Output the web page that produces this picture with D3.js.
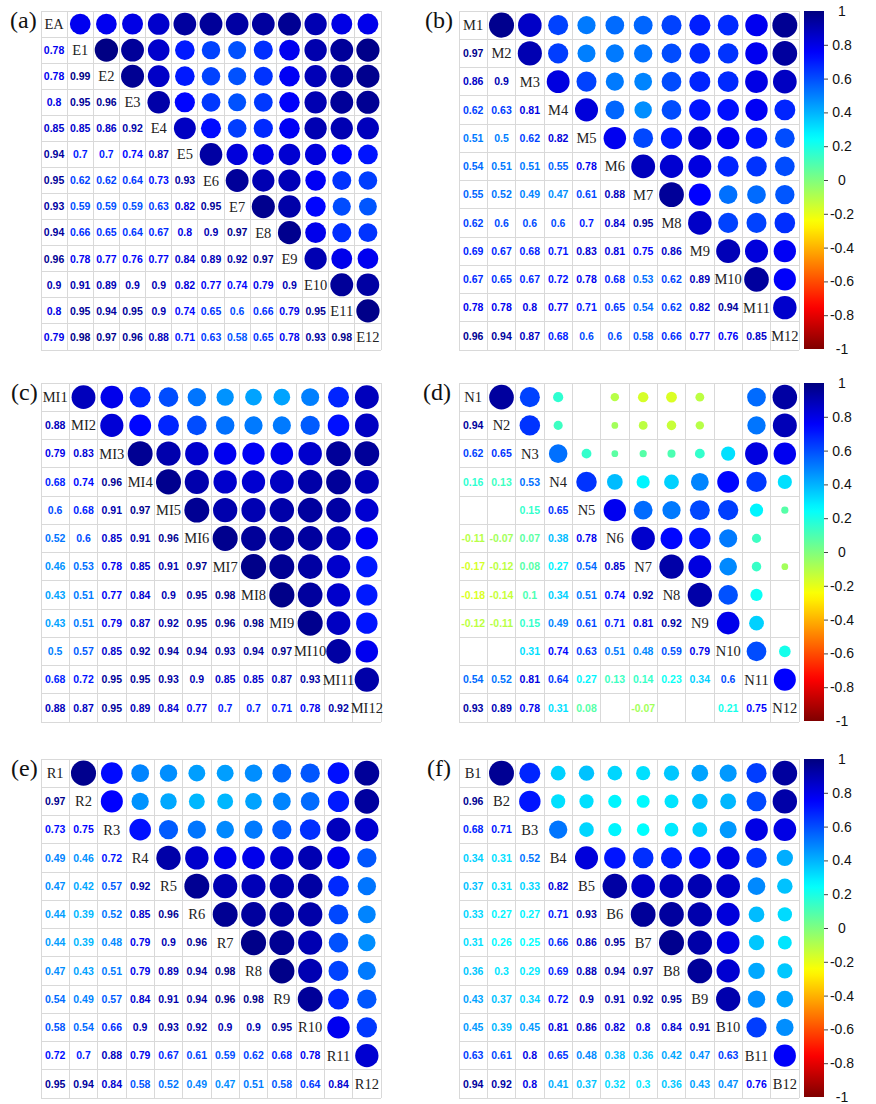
<!DOCTYPE html>
<html>
<head>
<meta charset="utf-8">
<script src="https://cdn.jsdelivr.net/npm/d3@7"></script>
<style>
  body { margin: 0; background: #fff; }
  svg { display: block; }
</style>
</head>
<body>
<svg id="fig" width="876" height="1104"></svg>
<script>
// Variable names for each correlation matrix (diagonal labels)
const labelsA = ["EA","E1","E2","E3","E4","E5","E6","E7","E8","E9","E10","E11","E12"];
const labelsB = ["M1","M2","M3","M4","M5","M6","M7","M8","M9","M10","M11","M12"];
const labelsC = ["MI1","MI2","MI3","MI4","MI5","MI6","MI7","MI8","MI9","MI10","MI11","MI12"];
const labelsD = ["N1","N2","N3","N4","N5","N6","N7","N8","N9","N10","N11","N12"];
const labelsE = ["R1","R2","R3","R4","R5","R6","R7","R8","R9","R10","R11","R12"];
const labelsF = ["B1","B2","B3","B4","B5","B6","B7","B8","B9","B10","B11","B12"];

// Lower-triangle correlation coefficients (row i holds columns 0..i-1); null = not significant
const corrA = [
  [],
  [0.78],
  [0.78, 0.99],
  [0.8, 0.95, 0.96],
  [0.85, 0.85, 0.86, 0.92],
  [0.94, 0.7, 0.7, 0.74, 0.87],
  [0.95, 0.62, 0.62, 0.64, 0.73, 0.93],
  [0.93, 0.59, 0.59, 0.59, 0.63, 0.82, 0.95],
  [0.94, 0.66, 0.65, 0.64, 0.67, 0.8, 0.9, 0.97],
  [0.96, 0.78, 0.77, 0.76, 0.77, 0.84, 0.89, 0.92, 0.97],
  [0.9, 0.91, 0.89, 0.9, 0.9, 0.82, 0.77, 0.74, 0.79, 0.9],
  [0.8, 0.95, 0.94, 0.95, 0.9, 0.74, 0.65, 0.6, 0.66, 0.79, 0.95],
  [0.79, 0.98, 0.97, 0.96, 0.88, 0.71, 0.63, 0.58, 0.65, 0.78, 0.93, 0.98]
];
const corrB = [
  [],
  [0.97],
  [0.86, 0.9],
  [0.62, 0.63, 0.81],
  [0.51, 0.5, 0.62, 0.82],
  [0.54, 0.51, 0.51, 0.55, 0.78],
  [0.55, 0.52, 0.49, 0.47, 0.61, 0.88],
  [0.62, 0.6, 0.6, 0.6, 0.7, 0.84, 0.95],
  [0.69, 0.67, 0.68, 0.71, 0.83, 0.81, 0.75, 0.86],
  [0.67, 0.65, 0.67, 0.72, 0.78, 0.68, 0.53, 0.62, 0.89],
  [0.78, 0.78, 0.8, 0.77, 0.71, 0.65, 0.54, 0.62, 0.82, 0.94],
  [0.96, 0.94, 0.87, 0.68, 0.6, 0.6, 0.58, 0.66, 0.77, 0.76, 0.85]
];
const corrC = [
  [],
  [0.88],
  [0.79, 0.83],
  [0.68, 0.74, 0.96],
  [0.6, 0.68, 0.91, 0.97],
  [0.52, 0.6, 0.85, 0.91, 0.96],
  [0.46, 0.53, 0.78, 0.85, 0.91, 0.97],
  [0.43, 0.51, 0.77, 0.84, 0.9, 0.95, 0.98],
  [0.43, 0.51, 0.79, 0.87, 0.92, 0.95, 0.96, 0.98],
  [0.5, 0.57, 0.85, 0.92, 0.94, 0.94, 0.93, 0.94, 0.97],
  [0.68, 0.72, 0.95, 0.95, 0.93, 0.9, 0.85, 0.85, 0.87, 0.93],
  [0.88, 0.87, 0.95, 0.89, 0.84, 0.77, 0.7, 0.7, 0.71, 0.78, 0.92]
];
const corrD = [
  [],
  [0.94],
  [0.62, 0.65],
  [0.16, 0.13, 0.53],
  [null, null, 0.15, 0.65],
  [-0.11, -0.07, 0.07, 0.38, 0.78],
  [-0.17, -0.12, 0.08, 0.27, 0.54, 0.85],
  [-0.18, -0.14, 0.1, 0.34, 0.51, 0.74, 0.92],
  [-0.12, -0.11, 0.15, 0.49, 0.61, 0.71, 0.81, 0.92],
  [null, null, 0.31, 0.74, 0.63, 0.51, 0.48, 0.59, 0.79],
  [0.54, 0.52, 0.81, 0.64, 0.27, 0.13, 0.14, 0.23, 0.34, 0.6],
  [0.93, 0.89, 0.78, 0.31, 0.08, null, -0.07, null, null, 0.21, 0.75]
];
const corrE = [
  [],
  [0.97],
  [0.73, 0.75],
  [0.49, 0.46, 0.72],
  [0.47, 0.42, 0.57, 0.92],
  [0.44, 0.39, 0.52, 0.85, 0.96],
  [0.44, 0.39, 0.48, 0.79, 0.9, 0.96],
  [0.47, 0.43, 0.51, 0.79, 0.89, 0.94, 0.98],
  [0.54, 0.49, 0.57, 0.84, 0.91, 0.94, 0.96, 0.98],
  [0.58, 0.54, 0.66, 0.9, 0.93, 0.92, 0.9, 0.9, 0.95],
  [0.72, 0.7, 0.88, 0.79, 0.67, 0.61, 0.59, 0.62, 0.68, 0.78],
  [0.95, 0.94, 0.84, 0.58, 0.52, 0.49, 0.47, 0.51, 0.58, 0.64, 0.84]
];
const corrF = [
  [],
  [0.96],
  [0.68, 0.71],
  [0.34, 0.31, 0.52],
  [0.37, 0.31, 0.33, 0.82],
  [0.33, 0.27, 0.27, 0.71, 0.93],
  [0.31, 0.26, 0.25, 0.66, 0.86, 0.95],
  [0.36, 0.3, 0.29, 0.69, 0.88, 0.94, 0.97],
  [0.43, 0.37, 0.34, 0.72, 0.9, 0.91, 0.92, 0.95],
  [0.45, 0.39, 0.45, 0.81, 0.86, 0.82, 0.8, 0.84, 0.91],
  [0.63, 0.61, 0.8, 0.65, 0.48, 0.38, 0.36, 0.42, 0.47, 0.63],
  [0.94, 0.92, 0.8, 0.41, 0.37, 0.32, 0.3, 0.36, 0.43, 0.47, 0.76]
];

const panelTags = ["(a)", "(b)", "(c)", "(d)", "(e)", "(f)"];
const colorbarTicks = [1, 0.8, 0.6, 0.4, 0.2, 0, -0.2, -0.4, -0.6, -0.8, -1];
const paletteStops = ["#7F0000", "#FF0000", "#FF7F00", "#FFFF00", "#7FFF7F", "#00FFFF", "#007FFF", "#0000FF", "#00007F"];

// Shared diverging colour scale, -1 .. 1
const color = d3.scaleLinear()
  .domain(d3.range(paletteStops.length).map(i => -1 + 2 * i / (paletteStops.length - 1)))
  .range(paletteStops)
  .interpolate(d3.interpolateRgb);

const svg = d3.select("#fig");
const SANS = "'Liberation Sans', Arial, Helvetica, sans-serif";
const SERIF = "'Liberation Serif', 'Times New Roman', Times, serif";

const GRID_W = 340, GRID_H = 339;
const panels = [
  { tag: panelTags[0], labels: labelsA, lower: corrA, x: 41,  y: 11,  tagX: 10,  bar: false },
  { tag: panelTags[1], labels: labelsB, lower: corrB, x: 459, y: 11,  tagX: 425, bar: true },
  { tag: panelTags[2], labels: labelsC, lower: corrC, x: 41,  y: 383, tagX: 11,  bar: false },
  { tag: panelTags[3], labels: labelsD, lower: corrD, x: 459, y: 383, tagX: 423, bar: true },
  { tag: panelTags[4], labels: labelsE, lower: corrE, x: 41,  y: 759, tagX: 11,  bar: false },
  { tag: panelTags[5], labels: labelsF, lower: corrF, x: 459, y: 759, tagX: 427, bar: true }
];

// Vertical gradient used by every colour bar
const grad = svg.append("defs").append("linearGradient")
  .attr("id", "corrGrad").attr("x1", 0).attr("y1", 0).attr("x2", 0).attr("y2", 1);
d3.range(0, 1.0001, 0.02).forEach(t => {
  grad.append("stop").attr("offset", t).attr("stop-color", color(1 - 2 * t));
});

function drawPanel(p) {
  const n = p.labels.length;
  const g = svg.append("g");
  const xs = d3.scaleBand().domain(d3.range(n)).range([p.x, p.x + GRID_W]);
  const ys = d3.scaleBand().domain(d3.range(n)).range([p.y, p.y + GRID_H]);
  const bw = xs.bandwidth(), bh = ys.bandwidth();
  const rScale = d3.scaleSqrt().domain([0, 1]).range([0, 0.45 * Math.min(bw, bh)]);

  const valueAt = (i, j) => (i > j ? p.lower[i][j] : p.lower[j][i]);

  const cells = [];
  for (let i = 0; i < n; i++) for (let j = 0; j < n; j++) {
    cells.push({ i, j, v: i === j ? null : valueAt(i, j) });
  }

  // Grid
  const lines = g.append("g").attr("stroke", "#d9d9d9").attr("stroke-width", 1)
    .attr("shape-rendering", "crispEdges");
  d3.range(n + 1).forEach(k => {
    const xx = k < n ? xs(k) : p.x + GRID_W;
    const yy = k < n ? ys(k) : p.y + GRID_H;
    lines.append("line").attr("x1", xx).attr("x2", xx).attr("y1", p.y).attr("y2", p.y + GRID_H);
    lines.append("line").attr("y1", yy).attr("y2", yy).attr("x1", p.x).attr("x2", p.x + GRID_W);
  });

  // Upper triangle: circles
  g.append("g").selectAll("circle")
    .data(cells.filter(c => c.j > c.i && c.v !== null))
    .join("circle")
    .attr("cx", c => xs(c.j) + bw / 2)
    .attr("cy", c => ys(c.i) + bh / 2)
    .attr("r", c => rScale(Math.abs(c.v)))
    .attr("fill", c => color(c.v));

  // Lower triangle: coefficients
  g.append("g").selectAll("text")
    .data(cells.filter(c => c.j < c.i && c.v !== null))
    .join("text")
    .attr("x", c => xs(c.j) + bw / 2)
    .attr("y", c => ys(c.i) + bh / 2)
    .attr("dy", "0.36em")
    .attr("text-anchor", "middle")
    .attr("font-family", SANS)
    .attr("font-weight", "bold")
    .attr("font-size", 10.5)
    .attr("fill", c => color(c.v))
    .text(c => String(c.v));

  // Diagonal: variable names
  g.append("g").selectAll("text")
    .data(p.labels)
    .join("text")
    .attr("x", (d, k) => xs(k) + bw / 2)
    .attr("y", (d, k) => ys(k) + bh / 2)
    .attr("dy", "0.35em")
    .attr("text-anchor", "middle")
    .attr("font-family", SERIF)
    .attr("font-size", 14.5)
    .attr("fill", "#222")
    .text(d => d);

  // Panel tag
  g.append("text")
    .attr("x", p.tagX).attr("y", p.y + 17)
    .attr("font-family", SERIF).attr("font-size", 24).attr("fill", "#111")
    .text(p.tag);

  if (p.bar) {
    const bx = 804, bwid = 20;
    const yScale = d3.scaleLinear().domain([1, -1]).range([p.y, p.y + GRID_H - 1]);
    g.append("rect")
      .attr("x", bx).attr("y", p.y).attr("width", bwid).attr("height", GRID_H - 1)
      .attr("fill", "url(#corrGrad)");
    const axis = d3.axisRight(yScale).tickValues(colorbarTicks).tickSize(4).tickFormat(d => String(d));
    const ag = g.append("g").attr("transform", `translate(${bx + bwid},0)`).call(axis);
    ag.select(".domain").remove();
    ag.selectAll(".tick line").attr("stroke", "#444")
      .filter(d => Math.abs(d) === 1).remove();
    ag.selectAll(".tick text")
      .attr("x", 18).attr("text-anchor", "middle")
      .attr("font-family", SANS).attr("font-size", 14).attr("fill", "#111");
  }
}

panels.forEach(drawPanel);
</script>
</body>
</html>
